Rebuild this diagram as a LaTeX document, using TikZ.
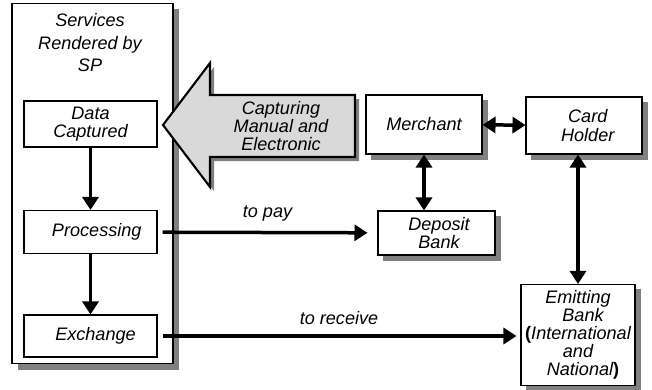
\documentclass[tikz,border=0pt]{standalone}
\usepackage{fontspec}
\setmainfont{Liberation Sans}
\usetikzlibrary{arrows.meta,positioning,backgrounds}
\definecolor{shadowgrey}{RGB}{128,128,128}
\tikzset{
  % plain boxes inside the services column
  step box/.style = {draw, line width=0.6pt, fill=white, align=center,
                     minimum width=2.66cm, minimum height=0.86cm},
  % boxes outside, they get a grey shadow
  shade box/.style = {draw, line width=0.6pt, fill=white, align=center},
  flow/.style = {line width=0.07cm, -{Triangle[width=0.32cm,length=0.26cm]}},
  dflow/.style = {line width=0.07cm,
                  {Triangle[width=0.32cm,length=0.26cm]}-{Triangle[width=0.32cm,length=0.26cm]}},
  lbl/.style = {font=\itshape\fontsize{10.3}{10.3}\selectfont}
}
\begin{document}
\begin{tikzpicture}[x=0.02cm, y=-0.02cm, every node/.style={lbl}]
    \useasboundingbox (0,0) rectangle (652,389);
    % Shadow of the services column
    \fill[shadowgrey] (18,9) rectangle (179,370);
    % Services column
    \node[shade box, minimum width=3.22cm, minimum height=7.22cm] (sp) at (92.5,183.5) {};
    \node[align=center] (sptitle) at (90,43) {Services\\[2.5pt]Rendered by\\[2.5pt]SP};
    \node[step box] (data) at (90.5,124) {Data\\Captured};
    \node[step box] (proc) at (90.5,232) {\hspace{0.25cm}Processing};
    \node[step box, minimum height=0.84cm] (exch) at (90.5,336) {\hspace{0.2cm}Exchange};
    \draw[flow] (data) -- (proc);
    \draw[flow] (proc) -- (exch);
    % Capturing arrow with its shadow
    \fill[shadowgrey]
      (167,129) -- (214,67) -- (214,99) -- (359,99) -- (359,161)
      -- (214,161) -- (214,191) -- cycle;
    \draw[line width=1.2pt, fill=gray!30]
      (163,125) -- (210,63) -- (210,95) -- (355,95) -- (355,157)
      -- (210,157) -- (210,187) -- cycle;
    \node[align=center] (capture) at (281,126) {Capturing\\Manual and\\Electronic};
    % Outside parties
    \node[shade box, minimum width=2.32cm, minimum height=1.18cm] (merchant) at (424,124.5) {Merchant};
    \node[shade box, minimum width=2.32cm, minimum height=1.14cm] (card) at (584,125.5) {\hspace{0.15cm}Card\\\hspace{0.15cm}Holder};
    \node[shade box, minimum width=2.34cm, minimum height=0.88cm] (deposit) at (436.5,233) {\hspace{0.1cm}Deposit\\\hspace{0.1cm}Bank};
    \node[shade box, minimum width=2.28cm, minimum height=2.02cm, inner sep=1pt] (emit) at (578,335)
      {Emitting\\\hspace{0.2cm}Bank\\{\upshape\bfseries(}International\\and\\\hspace{0.2cm}National{\upshape\bfseries)}};
    % Shadows behind the boxes
    \begin{scope}[on background layer]
      \foreach \party in {merchant,card,deposit,emit}
        \fill[shadowgrey] ([shift={(5.5,5.5)}]\party.south west) rectangle ([shift={(5.5,5.5)}]\party.north east);
    \end{scope}
    % Connectors
    \draw[dflow] (merchant) -- (card);
    \draw[dflow] (merchant.south) -- (merchant.south |- deposit.north);
    \draw[dflow] (card.south -| emit.north) -- (emit.north);
    \draw[flow, shorten <=0.1cm, shorten >=0.2cm] (proc) -- (deposit)
      node[pos=0.5, above=2pt] (pay) {to pay};
    \draw[flow, shorten <=0.1cm, shorten >=0.08cm] (exch.east) -- (exch.east -| emit.west)
      node[pos=0.5, above=2pt] (receive) {to receive};
\end{tikzpicture}
\end{document}
